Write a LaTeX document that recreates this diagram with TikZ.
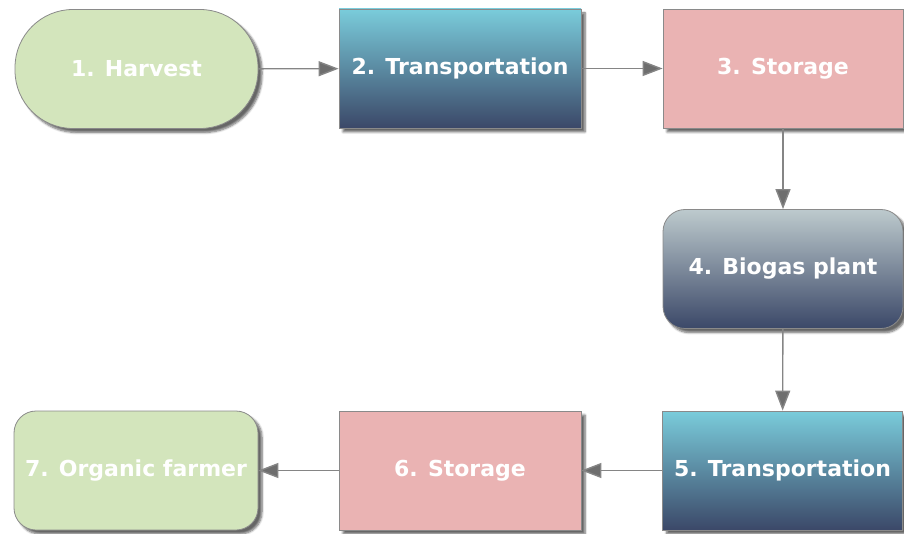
\documentclass[tikz,border=0pt]{standalone}
\usepackage{fontspec}
\setmainfont{DejaVu Sans}
\usetikzlibrary{arrows.meta,shadows.blur}
\definecolor{greenfill}{HTML}{D3E5BC}
\definecolor{pinkfill}{HTML}{EAB3B3}
\definecolor{cyantop}{HTML}{7ACCDB}
\definecolor{navybot}{HTML}{3B4868}
\definecolor{graytop}{HTML}{BDCACD}
\definecolor{edgegray}{HTML}{8A8A8A}
\definecolor{arrowgray}{HTML}{858585}
\definecolor{headgray}{HTML}{6E6E6E}
\tikzset{
  boxbase/.style={draw=edgegray, line width=0.8pt, inner sep=0pt,
    minimum width=242pt, minimum height=119pt,
    text=white, font=\fontsize{22}{24}\selectfont\bfseries,
    blur shadow={shadow xshift=4pt, shadow yshift=-4pt, shadow blur steps=6, shadow opacity=60}},
  greenstadium/.style={boxbase, fill=greenfill, rounded corners=58pt},
  greenround/.style={boxbase, fill=greenfill, rounded corners=22pt},
  transbox/.style={boxbase, top color=cyantop, bottom color=navybot},
  storebox/.style={boxbase, fill=pinkfill},
  biobox/.style={boxbase, top color=graytop, bottom color=navybot, rounded corners=22pt},
  flow/.style={draw=arrowgray, line width=1.4pt,
    -{Triangle[length=20pt,width=15pt,fill=headgray]}}
}
\begin{document}
\begin{tikzpicture}[x=1pt,y=-1pt]
\useasboundingbox (0,0) rectangle (904,534);
\node[greenstadium, minimum width=243pt] (n1) at (136.5,69) {1. Harvest};
\node[transbox] (n2) at (460,68.5) {2. Transportation};
\node[storebox, minimum width=240pt] (n3) at (783,68.5) {3. Storage};
\node[biobox, minimum width=240pt] (n4) at (783,269) {4. Biogas plant};
\node[transbox, minimum width=240pt] (n5) at (782.5,470.5) {5. Transportation};
\node[storebox] (n6) at (460,470.5) {6. Storage};
\node[greenround, minimum width=244pt] (n7) at (136,470.5) {7. Organic farmer};
\draw[flow] (n1) -- (n2);
\draw[flow] (n2) -- (n3);
\draw[flow] (n3) -- (n4);
\draw[flow] (n4) -- (n5);
\draw[flow] (n5) -- (n6);
\draw[flow] (n6) -- (n7);
\end{tikzpicture}
\end{document}
